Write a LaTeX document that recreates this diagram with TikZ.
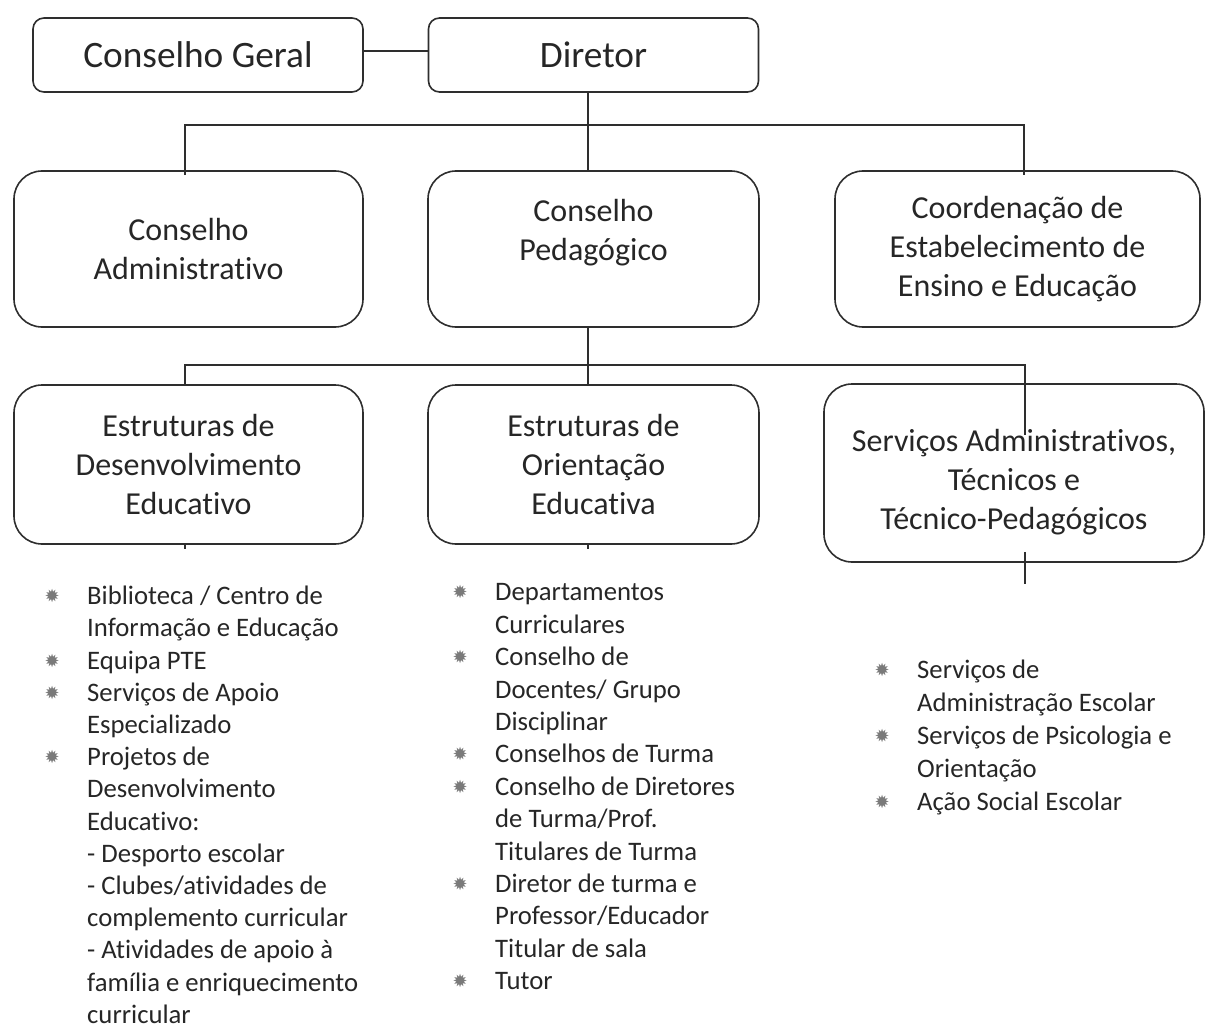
\documentclass[tikz,border=0pt]{standalone}
\usepackage{fontspec}
\setmainfont{Carlito}[RawFeature={-liga}]
\newfontfamily\dingfont{DejaVu Sans}
\usetikzlibrary{positioning}
\definecolor{linecol}{HTML}{2E2E2E}
\definecolor{textcol}{HTML}{262626}
\definecolor{bulcol}{HTML}{7A7A7A}
\newcommand{\blt}{\makebox[10pt]{\raisebox{2pt}{\textcolor{bulcol}{\dingfont\fontsize{18}{18}\selectfont ✹}}}}

\begin{document}
\begin{tikzpicture}[x=1pt,y=-1pt]
\useasboundingbox (0,0) rectangle (1205,1027);
% Draw Organigram
   \begin{scope}[ node distance=2cm,on grid,
                   headbox/.style={rectangle,draw=linecol,line width=1.6pt,rounded corners=11pt,minimum width=330pt,minimum height=74pt,text=textcol,font=\fontsize{37.3}{45}\selectfont},
                   unitbox/.style={rectangle,draw=linecol,line width=1.6pt,rounded corners=28pt,align=center,inner sep=0pt,text=textcol,font=\fontsize{32}{39}\selectfont},
                   unittext/.style={align=center,inner sep=0pt,text=textcol,font=\fontsize{32}{39}\selectfont},
                   itemlist/.style={anchor=north west,inner sep=0pt,text=textcol,font=\fontsize{26.7}{32.4}\selectfont},
                   link/.style={draw=linecol,line width=1.6pt} ]
     \node [headbox] (geral) at (198,55) {Conselho Geral};
     \node [headbox] (diretor) [right=395.5pt of geral] {Diretor};
     \node [unitbox,minimum width=331pt,minimum height=156pt] (pedag) [below=194pt of diretor] {Conselho\\Pedagógico\\\mbox{}};
     \node [unitbox,minimum width=349pt,minimum height=156pt] (admin) [left=405pt of pedag] {Conselho\\Administrativo};
     \node [unitbox,minimum width=365pt,minimum height=156pt] (coord) [right=424pt of pedag] {Coordenação de\\Estabelecimento de\\Ensino e Educação};
     \node [unitbox,minimum width=349pt,minimum height=159pt] (desenv) [below=215.5pt of admin] {Estruturas de\\Desenvolvimento\\Educativo};
     \node [unitbox,minimum width=331pt,minimum height=159pt] (orient) [below=215.5pt of pedag] {Estruturas de\\Orientação\\Educativa};
     \node [unitbox,minimum width=380pt,minimum height=178pt] (serv) [below=224pt of coord,xshift=-3.5pt] {};
     \node [unittext] (servtxt) [below=9pt of serv] {Serviços Administrativos,\\Técnicos e\\Técnico-Pedagógicos};
     \draw [link] ([yshift=4pt]geral.east) -- ([yshift=4pt]diretor.west);
     \draw [link] ([xshift=-5.5pt]diretor.south) -- ([xshift=-5.5pt]pedag.north);
     \draw [link] ([xshift=-3.5pt,yshift=-5pt]admin.north) |- ([xshift=6.5pt,yshift=45pt]coord.north) -- ([xshift=6.5pt,yshift=-5pt]coord.north);
     \draw [link] ([xshift=-5.5pt]pedag.south) -- ([xshift=-5.5pt]orient.north);
     \draw [link] ([xshift=-3.5pt]desenv.north) |- ([xshift=11pt,yshift=18pt]serv.north) -- ([xshift=11pt,yshift=-52pt]serv.north);
     \draw [link] ([xshift=-3.5pt]desenv.south) -- ++(0,4);
     \draw [link] ([xshift=-5.5pt]orient.south) -- ++(0,4);
     \draw [link] ([xshift=11pt,yshift=11pt]serv.south) -- ++(0,32);
     % lists under the units
     \node [itemlist,font=\fontsize{26.7}{32.2}\selectfont] (listdes) at (47,582) {\begin{tabular}{@{}l@{\hspace{30pt}}l@{}}
       \blt & Biblioteca / Centro de\\
            & Informação e Educação\\
       \blt & Equipa PTE\\
       \blt & Serviços de Apoio\\
            & Especializado\\
       \blt & Projetos de\\
            & Desenvolvimento\\
            & Educativo:\\
            & - Desporto escolar\\
            & - Clubes/atividades de\\
            & complemento curricular\\
            & - Atividades de apoio à\\
            & família e enriquecimento\\
            & curricular
     \end{tabular}};
     \node [itemlist] (listori) at (455,578) {\begin{tabular}{@{}l@{\hspace{30pt}}l@{}}
       \blt & Departamentos\\
            & Curriculares\\
       \blt & Conselho de\\
            & Docentes/ Grupo\\
            & Disciplinar\\
       \blt & Conselhos de Turma\\
       \blt & Conselho de Diretores\\
            & de Turma/Prof.\\
            & Titulares de Turma\\
       \blt & Diretor de turma e\\
            & Professor/Educador\\
            & Titular de sala\\
       \blt & Tutor
     \end{tabular}};
     \node [itemlist,font=\fontsize{26.7}{33}\selectfont] (listserv) at (877,655) {\begin{tabular}{@{}l@{\hspace{30pt}}l@{}}
       \blt & Serviços de\\
            & Administração Escolar\\
       \blt & Serviços de Psicologia e\\
            & Orientação\\
       \blt & Ação Social Escolar
     \end{tabular}};
   \end{scope}
\end{tikzpicture}
\end{document}
